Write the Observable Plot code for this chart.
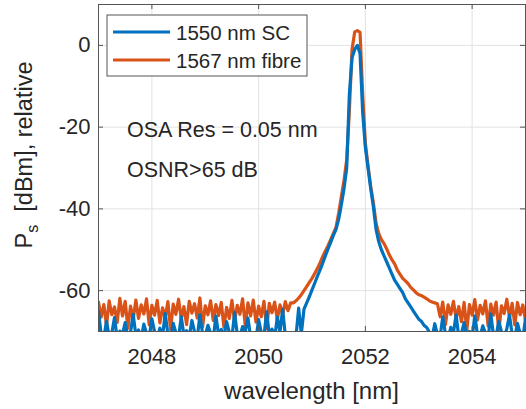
<!DOCTYPE html>
<html>
<head>
<meta charset="utf-8">
<script src="https://cdn.jsdelivr.net/npm/d3@7"></script>
<script src="https://cdn.jsdelivr.net/npm/@observablehq/plot@0.6"></script>
<style>
  html, body { margin: 0; padding: 0; background: #fff; }
  #chart svg { display: block; }
</style>
</head>
<body>
<div id="chart"></div>
<script>
// ---- data ----
const wavelengthStep = 0.05; // nm, sampling of the read-off spectra
const xTicks = [2048, 2050, 2052, 2054];
const yTicks = [0, -20, -40, -60];
const seriesNames = ["1550 nm SC", "1567 nm fibre"];
const annotations = ["OSA Res = 0.05 nm", "OSNR>65 dB"];

// 1567 nm fibre (orange) - segments with start wavelengths
const fibreLeftStart = 2047.00;
const fibreLeft = [
  -62.8,-66.5,-63.4,-68.6,-62.5,-65.9,-64.0,-67.8,-61.9,-66.2,
  -62.6,-69.2,-63.8,-67.0,-62.3,-66.8,-63.5,-65.7,-62.0,-68.4,
  -63.6,-66.0,-62.4,-67.9,-64.2,-66.6,-62.7,-69.5,-63.3,-65.8,
  -62.1,-66.9,-63.9,-68.3,-62.6,-65.5,-63.2,-66.7,-61.8,-68.9,
  -63.7,-65.9,-62.5,-67.3,-63.4,-66.1,-62.9,-69.0,-64.1,-66.8,
  -62.4,-67.5,-63.6,-65.8,-62.0,-68.6,-63.0,-66.2,-62.3,-67.7,
  -63.8,-66.4,-62.6,-69.3,-63.1,-65.4,-62.8,-67.1,-63.5,-65.9,
  -62.7,-64.9,-63.0];
const fibreCoreStart = 2050.65;
const fibreCore = [
  -63.0,-62.5,-61.8,-61.0,-60.0,-59.0,-58.0,-57.0,-55.8,-54.6,
  -53.2,-51.7,-50.3,-49.0,-47.5,-46.0,-44.5,-41.0,-37.0,-33.0,
  -28.0,-16.0,-1.0,3.3,3.6,3.2,-12.0,-24.0,-29.5,-34.5,
  -38.5,-43.5,-46.0,-47.5,-48.5,-49.8,-51.3,-52.5,-53.5,-55.0,
  -56.0,-57.0,-57.6,-58.3,-59.2,-59.8,-60.5,-61.0,-61.2,-61.6,
  -62.0,-62.5,-62.8,-63.0];
const fibreRightStart = 2053.35;
const fibreRight = [
  -63.2,-66.4,-62.8,-68.3,-63.5,-65.8,-62.6,-66.9,-63.9,-67.6,
  -62.9,-69.8,-63.4,-66.0,-62.2,-67.2,-63.6,-65.7,-62.5,-68.7,
  -63.3,-66.0,-62.8,-69.9,-63.7,-65.6,-62.1,-66.5,-63.1,-68.4,
  -62.9,-65.9,-63.5,-67.3];

// 1550 nm SC (blue)
const scLeftStart = 2047.00;
const scLeft = [
  -65.0,-70.8,-71.5,-67.5,-71.2,-70.4,-66.6,-71.8,-69.9,-70.6,
  -67.8,-71.4,-70.2,-65.8,-71.0,-69.6,-71.7,-68.2,-70.5,-71.3,
  -66.9,-70.0,-71.6,-69.2,-71.1,-65.6,-70.7,-71.9,-68.0,-70.3,
  -71.5,-66.4,-70.9,-69.8,-71.2,-67.3,-70.1,-71.6,-65.9,-70.6,
  -71.0,-68.5,-70.4,-71.7,-66.2,-70.8,-69.5,-71.3,-67.6,-70.2,
  -71.5,-65.4,-70.7,-71.1,-68.8,-70.0,-66.7,-71.4,-70.5,-71.8,
  -67.1,-70.3,-71.2,-65.2,-70.9,-69.4,-71.6,-66.5,-70.1,-64.6,
  -71.0,-70.4,-71.5,-70.8,-71.2,-64.3,-70.6];
const scCoreStart = 2050.85;
const scCore = [
  -64.5,-63.0,-61.5,-59.8,-58.2,-56.5,-55.0,-53.3,-51.5,-49.8,
  -48.2,-46.5,-45.0,-42.5,-39.0,-35.0,-30.0,-12.0,-3.0,-1.0,
  0.0,-2.0,-16.5,-25.0,-30.0,-35.0,-39.5,-45.0,-48.0,-50.0,
  -51.5,-53.0,-54.5,-56.0,-57.5,-58.5,-59.5,-60.5,-62.0,-63.0,
  -64.0,-65.0,-66.0,-67.0,-67.5,-68.5,-69.0];
const scRightStart = 2053.20;
const scRight = [
  -70.2,-71.5,-68.1,-70.8,-71.3,-66.4,-70.6,-71.8,-69.0,-70.3,
  -65.9,-71.4,-70.5,-67.8,-71.1,-70.0,-71.6,-66.2,-70.7,-71.2,
  -68.6,-70.4,-71.7,-65.7,-70.9,-71.0,-67.5,-70.1,-71.5,-69.3,
  -66.0,-70.8,-71.3,-68.0,-70.5,-71.6,-66.9];

// ---- build table ----
function seg(start, values, name) {
  return values.map((v, i) => ({series: name, wl: start + i * wavelengthStep, p: v}));
}
const fibre = [
  ...seg(fibreLeftStart, fibreLeft, seriesNames[1]),
  ...seg(fibreCoreStart, fibreCore, seriesNames[1]),
  ...seg(fibreRightStart, fibreRight, seriesNames[1])
];
const sc = [
  ...seg(scLeftStart, scLeft, seriesNames[0]),
  ...seg(scCoreStart, scCore, seriesNames[0]),
  ...seg(scRightStart, scRight, seriesNames[0])
];

const colors = {"1550 nm SC": "#0072BD", "1567 nm fibre": "#D95319"};
const W = 526, H = 409;
const mL = 98, mR = 1, mT = 4, mB = 78;
const pw = W - mL - mR, ph = H - mT - mB;
const tickLen = 5;
const textColor = "#262626";
const axisColor = "#555555";
const fontStack = "'Liberation Sans', Arial, Helvetica, sans-serif";

const chart = Plot.plot({
  width: W, height: H,
  marginLeft: mL, marginRight: mR, marginTop: mT, marginBottom: mB,
  style: {fontFamily: fontStack, fontSize: "22px", color: textColor, background: "#fff"},
  x: {domain: [2047, 2055], ticks: xTicks, label: null},
  y: {domain: [-70, 10], ticks: yTicks, label: null},
  marks: [
    Plot.gridX(xTicks, {stroke: "#e2e2e2", strokeOpacity: 1}),
    Plot.gridY(yTicks, {stroke: "#e2e2e2", strokeOpacity: 1}),
    Plot.line(fibre, {x: "wl", y: "p", stroke: colors["1567 nm fibre"], strokeWidth: 3.2, clip: true}),
    Plot.line(sc, {x: "wl", y: "p", stroke: colors["1550 nm SC"], strokeWidth: 3.2, clip: true}),
    Plot.frame({stroke: axisColor, strokeWidth: 1}),
    Plot.tickX(xTicks, {x: d => d, insetTop: ph - tickLen, stroke: axisColor}),
    Plot.tickX(xTicks, {x: d => d, insetBottom: ph - tickLen, stroke: axisColor}),
    Plot.tickY(yTicks, {y: d => d, insetRight: pw - tickLen, stroke: axisColor}),
    Plot.tickY(yTicks, {y: d => d, insetLeft: pw - tickLen, stroke: axisColor}),
    Plot.axisX(xTicks, {tickSize: 0, tickPadding: 17, fill: textColor, fontSize: 22, tickFormat: d => String(d)}),
    Plot.axisY(yTicks, {tickSize: 0, tickPadding: 8, fill: textColor, fontSize: 22, tickFormat: d => d < 0 ? "-" + Math.abs(d) : String(d)})
  ]
});

const svg = d3.select(chart);
// axis titles
svg.append("text")
  .attr("x", mL + pw / 2).attr("y", 399)
  .attr("text-anchor", "middle").attr("fill", textColor).attr("font-size", 24)
  .text("wavelength [nm]");
const yl = svg.append("text")
  .attr("transform", "translate(32,155) rotate(-90)")
  .attr("text-anchor", "middle").attr("fill", textColor).attr("font-size", 23.5);
yl.append("tspan").text("P");
yl.append("tspan").attr("font-size", 16).attr("dy", 6).text("s");
yl.append("tspan").attr("dy", -6).text("\u00a0 [dBm], relative");

// annotations
annotations.forEach((t, i) => {
  svg.append("text").attr("x", 127).attr("y", 137 + i * 40)
    .attr("text-anchor", "start")
    .attr("fill", textColor).attr("font-size", 21.5).text(t);
});

// legend
const lg = svg.append("g");
lg.append("rect").attr("x", 107).attr("y", 15).attr("width", 200).attr("height", 61)
  .attr("fill", "#fff").attr("stroke", axisColor).attr("stroke-width", 1);
seriesNames.forEach((n, i) => {
  const cy = 32 + i * 28;
  lg.append("line").attr("x1", 113).attr("x2", 170).attr("y1", cy).attr("y2", cy)
    .attr("stroke", colors[n]).attr("stroke-width", 3.2);
  lg.append("text").attr("x", 176).attr("y", cy + 7.5)
    .attr("text-anchor", "start").attr("fill", textColor)
    .attr("font-size", 20.5).text(n);
});

document.getElementById("chart").appendChild(chart);
</script>
</body>
</html>
